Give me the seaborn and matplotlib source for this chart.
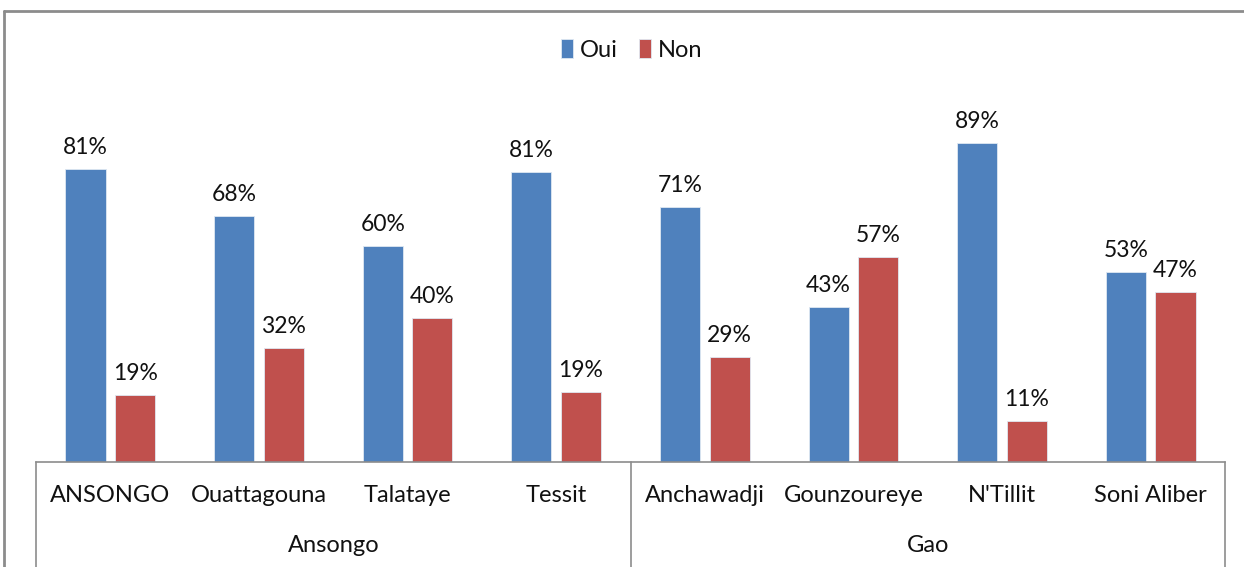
import matplotlib
matplotlib.use("Agg")
import matplotlib.pyplot as plt
from matplotlib.lines import Line2D
import pandas as pd
import seaborn as sns

# data (share of answers, Oui / Non)
communes = ['ANSONGO', 'Ouattagouna', 'Talataye', 'Tessit',
            'Anchawadji', 'Gounzoureye', "N'Tillit", 'Soni Aliber']
cercles = ['Ansongo', 'Gao']
cercle_sizes = [4, 4]
oui = [0.814, 0.684, 0.599, 0.806, 0.708, 0.431, 0.886, 0.528]
non = [0.186, 0.316, 0.401, 0.194, 0.292, 0.569, 0.114, 0.472]

BLUE = '#4F81BD'
RED = '#C0504D'
GRID = '#8c8c8c'
TXT = '#111111'

sns.set_theme(style='white')
plt.rcParams['font.family'] = ['Lato', 'DejaVu Sans']

df = pd.DataFrame({
    'commune': communes * 2,
    'reponse': ['Oui'] * len(communes) + ['Non'] * len(communes),
    'valeur': oui + non,
})

fig = plt.figure(figsize=(12.44, 5.67), dpi=100)
W, H = 1244, 567
ax = fig.add_axes([36 / W, (H - 462) / H, (1225 - 36) / W, 360 / H])

sns.barplot(data=df, x='commune', y='valeur', hue='reponse',
            palette={'Oui': BLUE, 'Non': RED}, order=communes,
            hue_order=['Oui', 'Non'], width=0.667, gap=0.19,
            saturation=1, edgecolor='#dfe8f2', linewidth=0.6, ax=ax)

for cont in ax.containers:
    ax.bar_label(cont, labels=[f'{v * 100:.0f}%' for v in cont.datavalues],
                 padding=8, fontsize=16.5, color=TXT)

ax.set_ylim(0, 1)
ax.set_xlim(-0.5, len(communes) - 0.5)
ax.set_xlabel('')
ax.set_ylabel('')
ax.set_xticks([])
ax.set_yticks([])
for s in ['top', 'right', 'left']:
    ax.spines[s].set_visible(False)
ax.spines['bottom'].set_color(GRID)
ax.spines['bottom'].set_linewidth(1.2)

# two-level category axis
trans = ax.get_xaxis_transform()
for i, c in enumerate(communes):
    ax.text(i, -0.092, c, transform=trans, ha='center', va='center',
            fontsize=17, color=TXT)
start = 0
bounds = [-0.5]
for name, n in zip(cercles, cercle_sizes):
    ax.text(start + (n - 1) / 2, -0.233, name, transform=trans,
            ha='center', va='center', fontsize=17, color=TXT)
    start += n
    bounds.append(start - 0.5)
for b in bounds:
    ax.plot([b, b], [0, -0.30], transform=trans, color=GRID, lw=1.2,
            clip_on=False)

leg = ax.legend(loc='center', bbox_to_anchor=(632 / W, (H - 50) / H),
                bbox_transform=fig.transFigure, ncol=2, frameon=False,
                fontsize=17, handlelength=0.5, handleheight=0.85,
                handletextpad=0.3, columnspacing=0.9)
for t in leg.get_texts():
    t.set_color(TXT)

# outer chart frame (top and left edges visible)
fig.add_artist(Line2D([4 / W, 1.0], [1 - 11 / H, 1 - 11 / H],
                      transform=fig.transFigure, color=GRID, lw=2))
fig.add_artist(Line2D([4 / W, 4 / W], [0, 1 - 11 / H],
                      transform=fig.transFigure, color=GRID, lw=2))

fig.savefig('out.png', dpi=100)
